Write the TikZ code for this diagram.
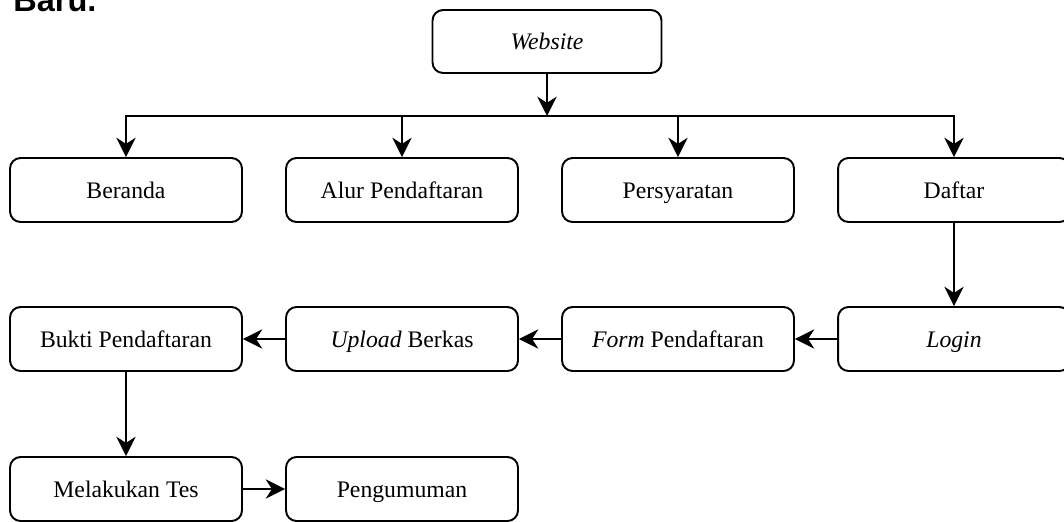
\documentclass[tikz,border=0pt]{standalone}
\usepackage{fontspec}
\setmainfont{Liberation Serif}
\newfontfamily\headfont{Liberation Sans}
\usetikzlibrary{arrows.meta}

\tikzset{
	box/.style={draw,rounded corners=6pt,line width=1.1pt,
		minimum width=4.64cm,minimum height=1.28cm,inner sep=0pt,
		text height=11pt,text depth=1.4pt,
		font=\fontsize{13.5}{16}\selectfont},
	arr/.style={line width=1.1pt,-{Stealth[length=11pt,width=11pt,inset=3.5pt]}}
}

\begin{document}
\begin{tikzpicture}[x=0.02cm,y=-0.02cm]
	\useasboundingbox (0,0) rectangle (1064,521);
	\clip (0,0) rectangle (1064,521);
	% cut-off caption above
	\node[anchor=base west,inner sep=0pt,font=\headfont\bfseries\fontsize{18.5}{20}\selectfont] (cap) at (13,11) {Baru.};

	\node[box,minimum width=4.58cm,minimum height=1.26cm] (web) at (547,41.5) {\textit{Website}};

	% first row
	\node[box] (beranda) at (126,190) {Beranda};
	\node[box] (alur) at (402,190) {Alur Pendaftaran};
	\node[box] (syarat) at (678,190) {Persyaratan};
	\node[box] (daftar) at (954,190) {Daftar};

	% second row
	\node[box] (bukti) at (126,339) {Bukti Pendaftaran};
	\node[box] (upload) at (402,339) {\textit{Upload} Berkas};
	\node[box] (form) at (678,339) {\textit{Form} Pendaftaran};
	\node[box] (login) at (954,339) {\textit{Login}};

	% third row
	\node[box] (tes) at (126,489) {Melakukan Tes};
	\node[box] (umum) at (402,489) {Pengumuman};

	\coordinate (bus) at (547,116);
	\draw[arr] (web) -- (bus);
	\draw[arr] (bus) -| (beranda);
	\draw[arr] (bus) -| (alur);
	\draw[arr] (bus) -| (syarat);
	\draw[arr] (bus) -| (daftar);

	\draw[arr] (daftar) -- (login);
	\draw[arr] (login) -- (form);
	\draw[arr] (form) -- (upload);
	\draw[arr] (upload) -- (bukti);
	\draw[arr] (bukti) -- (tes);
	\draw[arr] (tes) -- (umum);
\end{tikzpicture}
\end{document}
